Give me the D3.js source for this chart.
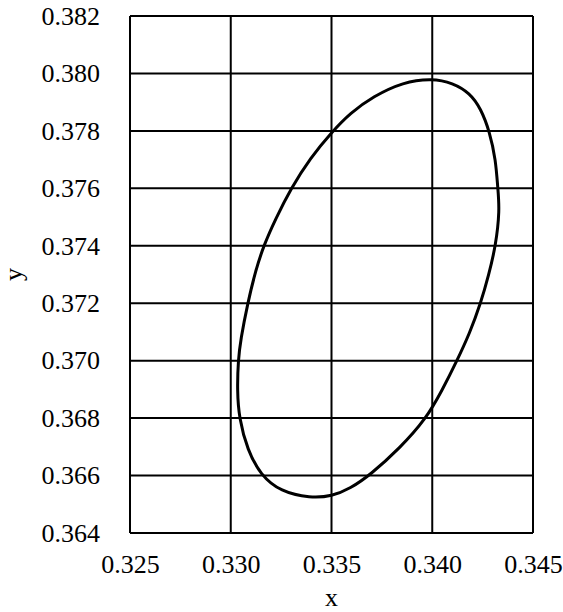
<!DOCTYPE html>
<html lang="en">
<head>
<meta charset="UTF-8">
<title>Ellipse x-y</title>
<script src="https://cdn.jsdelivr.net/npm/d3@7"></script>
<style>
	body { margin: 0; background: #fff; }
	text { font-family: "Liberation Serif", "Times New Roman", serif; fill: #000; }
</style>
</head>
<body>
<svg id="chart" width="563" height="612"></svg>
<script>
// ellipse outline (clockwise from the top)
const ellipseX = [0.33999, 0.34102, 0.34186, 0.34241, 0.34285, 0.34315, 0.34325, 0.34335,
	0.34315, 0.34280, 0.34241, 0.34186, 0.34122, 0.34050, 0.33969, 0.33840, 0.33692,
	0.33593, 0.33503, 0.33395, 0.33247, 0.33148, 0.33083, 0.33041, 0.33032, 0.33037,
	0.33049, 0.33083, 0.33124, 0.33165, 0.33220, 0.33299, 0.33395, 0.33503, 0.33593,
	0.33707, 0.33855];
const ellipseY = [0.37983, 0.37967, 0.37932, 0.37878, 0.37797, 0.37699, 0.37601, 0.37525,
	0.37399, 0.37298, 0.37201, 0.37096, 0.36999, 0.36898, 0.36797, 0.36696, 0.36602,
	0.36555, 0.36528, 0.36521, 0.36544, 0.36602, 0.36689, 0.36800, 0.36898, 0.37002,
	0.37072, 0.37197, 0.37316, 0.37403, 0.37490, 0.37600, 0.37706, 0.37797, 0.37862,
	0.37920, 0.37970];

const xTicks = [0.325, 0.330, 0.335, 0.340, 0.345];
const yTicks = [0.364, 0.366, 0.368, 0.370, 0.372, 0.374, 0.376, 0.378, 0.380, 0.382];

const margin = { top: 16, right: 30, bottom: 79, left: 130 };
const width = 563 - margin.left - margin.right;
const height = 612 - margin.top - margin.bottom;

const svg = d3.select("#chart");
const g = svg.append("g").attr("transform", `translate(${margin.left},${margin.top})`);

const x = d3.scaleLinear().domain([0.325, 0.345]).range([0, width]);
const y = d3.scaleLinear().domain([0.364, 0.382]).range([height, 0]);

// grid
g.selectAll(".vgrid").data(xTicks).enter().append("line")
	.attr("x1", d => x(d)).attr("x2", d => x(d))
	.attr("y1", 0).attr("y2", height)
	.attr("stroke", "#000").attr("stroke-width", 2);
g.selectAll(".hgrid").data(yTicks).enter().append("line")
	.attr("x1", 0).attr("x2", width)
	.attr("y1", d => y(d)).attr("y2", d => y(d))
	.attr("stroke", "#000").attr("stroke-width", 2);

// axes (labels only, lines come from the grid)
const xAxis = g.append("g").attr("transform", `translate(0,${height})`)
	.call(d3.axisBottom(x).tickValues(xTicks).tickFormat(d3.format(".3f")).tickSize(0).tickPadding(22));
const yAxis = g.append("g")
	.call(d3.axisLeft(y).tickValues(yTicks).tickFormat(d3.format(".3f")).tickSize(0).tickPadding(30));
[xAxis, yAxis].forEach(a => {
	a.select(".domain").remove();
	a.selectAll("text").attr("font-size", 26).attr("font-family", "Liberation Serif, Times New Roman, serif");
});

// ellipse (basis curve smooths the hand-read points)
const pts = ellipseX.map((v, i) => [v, ellipseY[i]]);
const line = d3.line().x(d => x(d[0])).y(d => y(d[1])).curve(d3.curveBasisClosed);
g.append("path").datum(pts)
	.attr("d", line)
	.attr("fill", "none")
	.attr("stroke", "#000")
	.attr("stroke-width", 3);

// axis titles
svg.append("text").attr("x", margin.left + x(0.335)).attr("y", 606)
	.attr("text-anchor", "middle").attr("font-size", 26).text("x");
svg.append("text").attr("transform", `translate(22,${margin.top + height / 2}) rotate(-90)`)
	.attr("text-anchor", "middle").attr("font-size", 26).text("y");
</script>
</body>
</html>
